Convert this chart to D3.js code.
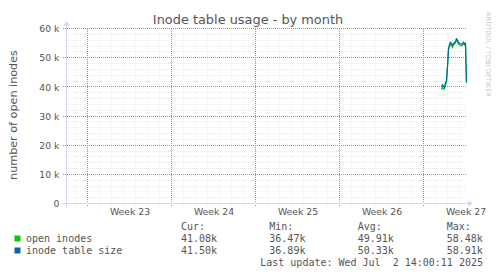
<!DOCTYPE html>
<html><head><meta charset="utf-8">
<script src="https://cdn.jsdelivr.net/npm/d3@7"></script>
<style>
html,body{margin:0;padding:0;background:#fff;}
svg{display:block;}
</style></head>
<body>
<svg id="chart" width="497" height="276"></svg>
<script>
// ---- data ----
const title = "Inode table usage - by month";
const yAxisLabel = "number of open inodes";
const watermark = "RRDTOOL / TOBI OETIKER";
const timeStart = "2025-05-30T06:00:00Z";
const timeEnd = "2025-07-02T14:00:00Z";
const weekStarts = ["2025-06-01", "2025-06-08", "2025-06-15", "2025-06-22", "2025-06-29"];
const weekLabels = ["Week 23", "Week 24", "Week 25", "Week 26", "Week 27"];
const yTicks = [0, 10000, 20000, 30000, 40000, 50000, 60000];
const yTickLabels = ["0", "10 k", "20 k", "30 k", "40 k", "50 k", "60 k"];
const sampleStart = "2025-06-30T12:00:00Z"; // samples every 2 hours
const openInodes = [38.9, 39.8, 39.0, 39.2, 40.6, 41.4, 46.5, 52.5, 53.6, 54.6, 53.9, 53.2, 54.3,
  54.5, 54.9, 55.8, 55.3, 54.4, 54.2, 54.0, 53.9, 54.1, 54.8, 54.1, 54.3, 41.08];
const inodeTableSize = [39.8, 40.6, 40.0, 39.6, 41.2, 42.0, 47.0, 53.0, 54.4, 55.2, 54.6, 54.0, 54.8,
  55.0, 55.4, 56.4, 55.8, 55.0, 54.8, 54.6, 54.4, 54.6, 55.2, 54.6, 54.8, 41.5];
const seriesNames = ["open inodes", "inode table size"];
const seriesColors = ["#00CC00", "#0066B3"];
const statHeaders = ["Cur:", "Min:", "Avg:", "Max:"];
const statsOpen = ["41.08k", "36.47k", "49.91k", "58.48k"];
const statsSize = ["41.50k", "36.89k", "50.33k", "58.91k"];
const lastUpdate = "Last update: Wed Jul  2 14:00:11 2025";

// ---- layout ----
const svg = d3.select("#chart");
const L = 66, R = 466, T = 28, B = 203;
const x = d3.scaleUtc().domain([new Date(timeStart), new Date(timeEnd)]).range([L, R]);
const y = d3.scaleLinear().domain([0, 60000]).range([B, T]);
const fg = "#555";
const axisFont = "DejaVu Sans, sans-serif";
const monoFont = "DejaVu Sans Mono, monospace";

svg.append("rect").attr("width", 497).attr("height", 276).attr("fill", "#fff");

const px = v => Math.round(v) + 0.5;

// minor grid
const gMinor = svg.append("g").style("stroke", "#ececec").style("stroke-width", "1px").style("stroke-dasharray", "1 1");
const days = d3.utcDay.range(new Date(timeStart), new Date(timeEnd));
const weekSet = new Set(weekStarts.map(d => +new Date(d + "T00:00:00Z")));
days.filter(d => !weekSet.has(+d)).forEach(d => {
  gMinor.append("line").attr("x1", px(x(d))).attr("x2", px(x(d))).attr("y1", B + 2).attr("y2", T);
});
d3.range(0, 60001, 2000).filter(v => v % 10000 !== 0).forEach(v => {
  gMinor.append("line").attr("x1", L - 2).attr("x2", R).attr("y1", px(y(v))).attr("y2", px(y(v)));
});
// major grid
const gMajor = svg.append("g").style("stroke", "#f07070").style("stroke-width", "1px").style("stroke-dasharray", "1 1");
weekStarts.forEach(d => {
  const xx = px(x(new Date(d + "T00:00:00Z")));
  gMajor.append("line").attr("x1", xx).attr("x2", xx).attr("y1", B + 3).attr("y2", T);
});
yTicks.filter(v => v > 0).forEach(v => {
  gMajor.append("line").attr("x1", L - 3).attr("x2", R).attr("y1", px(y(v))).attr("y2", px(y(v)));
});

// y axis labels via d3 axis
const yAxis = d3.axisLeft(y).tickValues(yTicks).tickFormat((d, i) => yTickLabels[i]).tickSize(0).tickPadding(0);
const gy = svg.append("g").attr("transform", `translate(${L - 6.5},0.5)`).call(yAxis);
gy.select(".domain").remove();
gy.selectAll("text").attr("fill", fg).attr("font-family", axisFont).attr("font-size", "9.3px").attr("dy", "0.35em");

// x axis labels (centered in week)
const weekMids = weekStarts.map(d => d3.utcHour.offset(new Date(d + "T00:00:00Z"), 84));
const xAxis = d3.axisBottom(x).tickValues(weekMids).tickFormat((d, i) => weekLabels[i]).tickSize(0).tickPadding(0);
const gx = svg.append("g").attr("transform", `translate(0.5,${B + 5})`).call(xAxis);
gx.select(".domain").remove();
gx.selectAll("text").attr("fill", fg).attr("font-family", axisFont).attr("font-size", "9.3px").attr("dy", "0.78em");

// axes with arrows
const axisCol = "#cfd6f8";
svg.append("line").attr("x1", L - 4).attr("x2", R + 4).attr("y1", B + 0.5).attr("y2", B + 0.5).attr("stroke", axisCol);
svg.append("line").attr("x1", L + 0.5).attr("x2", L + 0.5).attr("y1", B + 4).attr("y2", T - 4).attr("stroke", axisCol);
svg.append("path").attr("d", `M${R + 2},${B - 2.5}L${R + 7},${B + 0.5}L${R + 2},${B + 3.5}Z`).attr("fill", axisCol);
svg.append("path").attr("d", `M${L - 2.5},${T - 2}L${L + 0.5},${T - 7}L${L + 3.5},${T - 2}Z`).attr("fill", axisCol);

// series
const times = openInodes.map((_, i) => d3.utcHour.offset(new Date(sampleStart), 2 * i));
const line = d3.line().x((d, i) => px(x(times[i]))).y(d => y(d * 1000));
[openInodes, inodeTableSize].forEach((s, k) => {
  svg.append("path").datum(s).attr("d", line).attr("fill", "none")
    .attr("stroke", seriesColors[k]).attr("stroke-width", 1.2).attr("stroke-linejoin", "round");
});

// title
svg.append("text").attr("x", 248).attr("y", 24).attr("text-anchor", "middle")
  .attr("font-family", axisFont).attr("font-size", "12.9px").attr("fill", fg).text(title);
// y label
svg.append("text").attr("transform", `translate(17,115) rotate(-90)`).attr("text-anchor", "middle")
  .attr("font-family", axisFont).attr("font-size", "11.2px").attr("fill", fg).text(yAxisLabel);
// watermark
svg.append("text").attr("transform", `translate(486,12) rotate(90)`).attr("text-anchor", "start")
  .attr("font-family", axisFont).attr("font-size", "6.6px").attr("fill", "#c8c8c8").text(watermark);

// legend
const colX = [181, 269.3, 357.7, 446.7];
const lg = svg.append("g").attr("font-family", monoFont).attr("font-size", "10px").attr("fill", fg).attr("xml:space", "preserve");
statHeaders.forEach((h, i) => lg.append("text").attr("x", colX[i]).attr("y", 230).text(h));
[statsOpen, statsSize].forEach((row, r) => {
  const yy = 242 + r * 12;
  svg.append("rect").attr("x", 14.5).attr("y", yy - 6.5).attr("width", 6).attr("height", 6)
    .attr("fill", seriesColors[r]);
  lg.append("text").attr("x", 26).attr("y", yy).text(seriesNames[r]);
  row.forEach((v, i) => lg.append("text").attr("x", colX[i]).attr("y", yy).text(v));
});
lg.append("text").attr("x", 483).attr("y", 266).attr("text-anchor", "end").style("white-space", "pre").text(lastUpdate);
</script>
</body></html>
